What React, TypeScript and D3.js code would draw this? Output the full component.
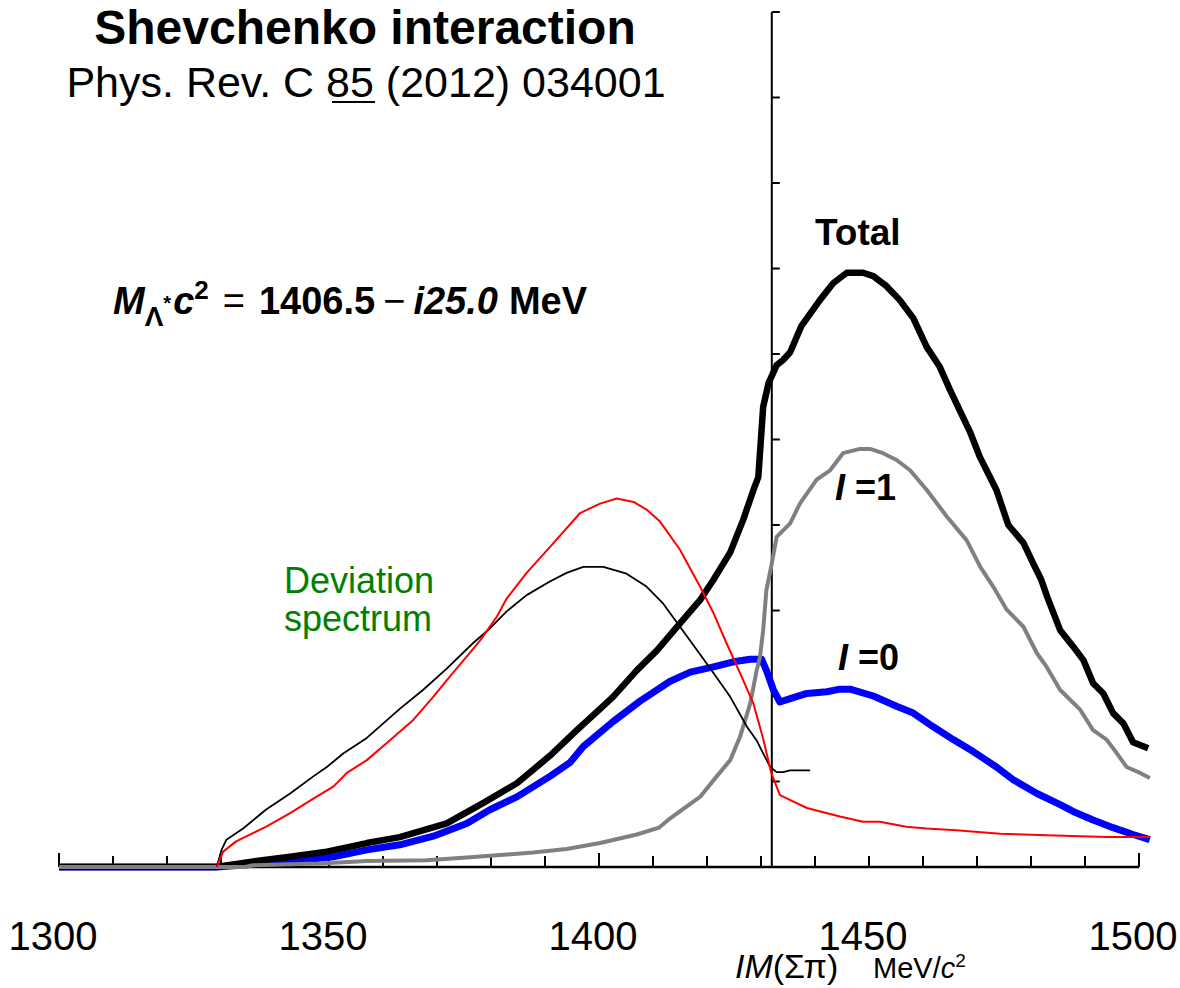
import React from "react";
import * as d3 from "d3";

// Invariant-mass axis (MeV/c^2) and the spectra in arbitrary units (one unit per y tick)
const totalMass = [1300, 1329, 1335.4, 1342.8, 1349.6, 1357.0, 1363.1, 1371.8, 1378.6, 1384.8, 1390.9, 1395.9, 1400.2, 1402.6, 1407.0, 1410.7, 1415.0, 1418.7, 1421.2, 1424.3, 1426.7, 1428.6, 1429.5, 1430.4, 1431.4, 1432.9, 1434.1, 1435.4, 1437.5, 1440.9, 1443.4, 1445.9, 1448.9, 1450.8, 1453.3, 1455.7, 1458.2, 1460.7, 1463.1, 1465.0, 1468.7, 1470.5, 1473.6, 1475.8, 1478.6, 1480.4, 1481.9, 1483.0, 1485.4, 1487.8, 1489.7, 1491.5, 1493.4, 1495.2, 1497.1, 1498.9, 1501.7];
const totalValue = [0, 0, 0.06, 0.12, 0.18, 0.28, 0.35, 0.51, 0.75, 0.98, 1.30, 1.60, 1.85, 1.99, 2.30, 2.53, 2.85, 3.12, 3.36, 3.68, 4.06, 4.41, 4.56, 5.38, 5.66, 5.87, 5.93, 6.02, 6.33, 6.63, 6.83, 6.95, 6.95, 6.91, 6.79, 6.63, 6.42, 6.08, 5.85, 5.58, 5.09, 4.80, 4.41, 4.00, 3.79, 3.55, 3.36, 3.16, 2.77, 2.58, 2.42, 2.15, 2.03, 1.80, 1.68, 1.46, 1.39];

const iso0Mass = [1300, 1329.2, 1335.4, 1344.6, 1350.8, 1357.0, 1363.1, 1369.3, 1375.5, 1379.8, 1384.8, 1390.9, 1394.6, 1397.1, 1402.6, 1407.6, 1413.1, 1416.9, 1421.2, 1424.9, 1428.0, 1430.1, 1431.0, 1432.3, 1433.5, 1435.4, 1438.5, 1442.2, 1444.6, 1446.5, 1450.8, 1455.1, 1458.2, 1461.9, 1465.6, 1469.3, 1473.6, 1476.7, 1481.1, 1485.4, 1487.8, 1491.5, 1495.2, 1498.9, 1502.0];
const iso0Value = [0, 0.0, 0.03, 0.08, 0.12, 0.20, 0.26, 0.36, 0.51, 0.67, 0.82, 1.06, 1.22, 1.41, 1.70, 1.94, 2.17, 2.28, 2.34, 2.40, 2.43, 2.43, 2.30, 2.07, 1.93, 1.97, 2.03, 2.05, 2.08, 2.08, 2.00, 1.88, 1.80, 1.64, 1.49, 1.35, 1.17, 1.02, 0.86, 0.73, 0.65, 0.55, 0.46, 0.38, 0.32];

const iso1Mass = [1300, 1334.5, 1335.9, 1348.3, 1357.0, 1368.1, 1375.5, 1381.7, 1387.8, 1394.0, 1400.2, 1407.0, 1411.1, 1412.8, 1418.7, 1421.8, 1424.3, 1426.1, 1428.0, 1429.2, 1429.8, 1430.4, 1431.0, 1432.0, 1432.9, 1435.4, 1437.2, 1440.3, 1442.8, 1445.2, 1448.3, 1450.2, 1452.6, 1455.1, 1457.6, 1460.7, 1464.4, 1468.1, 1470.6, 1473.0, 1475.5, 1478.6, 1481.1, 1482.9, 1485.4, 1489.1, 1491.5, 1494.0, 1495.9, 1497.7, 1500.2, 1502.0];
const iso1Value = [0, 0, 0.02, 0.04, 0.07, 0.08, 0.11, 0.14, 0.17, 0.21, 0.28, 0.38, 0.46, 0.55, 0.82, 1.06, 1.25, 1.52, 1.91, 2.30, 2.45, 2.77, 3.24, 3.55, 3.86, 4.02, 4.25, 4.53, 4.64, 4.84, 4.89, 4.89, 4.84, 4.76, 4.64, 4.41, 4.10, 3.82, 3.51, 3.28, 3.01, 2.81, 2.50, 2.34, 2.07, 1.84, 1.60, 1.49, 1.33, 1.17, 1.10, 1.04];

const redMass = [1329.2, 1330.4, 1332.8, 1338.3, 1342.8, 1347.1, 1350.8, 1353.3, 1357.0, 1360.7, 1365.6, 1369.3, 1372.4, 1375.5, 1378.0, 1381.1, 1382.9, 1386.6, 1391.6, 1396.5, 1400.2, 1403.3, 1406.4, 1408.8, 1411.3, 1415.0, 1418.7, 1421.2, 1423.6, 1426.1, 1428.6, 1430.4, 1431.9, 1433.5, 1438.5, 1444.6, 1448.9, 1452.0, 1456.9, 1460.6, 1466.2, 1474.3, 1482.9, 1494.0, 1502.0];
const redValue = [0, 0.18, 0.30, 0.47, 0.63, 0.80, 0.94, 1.10, 1.25, 1.45, 1.72, 1.99, 2.23, 2.46, 2.65, 2.93, 3.14, 3.44, 3.79, 4.14, 4.25, 4.31, 4.27, 4.18, 4.04, 3.71, 3.28, 2.97, 2.62, 2.27, 1.91, 1.50, 1.10, 0.84, 0.69, 0.59, 0.53, 0.53, 0.47, 0.45, 0.43, 0.39, 0.37, 0.35, 0.35];

const deviationMass = [1329.2, 1330.1, 1331.0, 1334.1, 1338.3, 1342.8, 1347.1, 1349.6, 1352.7, 1357.0, 1363.1, 1367.4, 1371.8, 1376.7, 1379.8, 1382.9, 1386.6, 1390.9, 1394.0, 1397.1, 1400.8, 1405.1, 1408.8, 1411.9, 1415.0, 1418.1, 1421.2, 1424.3, 1427.4, 1429.2, 1430.4, 1431.7, 1432.9, 1434.1, 1435.4, 1439.1];
const deviationValue = [0, 0.20, 0.32, 0.45, 0.67, 0.86, 1.06, 1.17, 1.33, 1.51, 1.85, 2.07, 2.32, 2.62, 2.79, 2.99, 3.18, 3.34, 3.44, 3.51, 3.51, 3.43, 3.28, 3.08, 2.81, 2.54, 2.27, 1.99, 1.64, 1.48, 1.33, 1.17, 1.11, 1.11, 1.13, 1.13];

const xTickLabels = [1300, 1350, 1400, 1450, 1500];
const thresholdMass = 1432;

const FONT = "'Liberation Sans', Arial, Helvetica, sans-serif";

function pts(xs: number[], ys: number[]): [number, number][] {
  return xs.map((x, i) => [x, ys[i]]);
}

export default function App() {
  const x = d3.scaleLinear().domain([1300, 1500]).range([59, 1139]);
  const y = d3.scaleLinear().domain([0, 10]).range([867, 12]);
  const line = d3
    .line<[number, number]>()
    .x((d) => x(d[0]))
    .y((d) => y(d[1]));

  const minorTicks = d3.range(1300, 1501, 10);
  const yTicks = d3.range(0, 11, 1);
  const axisX = x(thresholdMass);

  return (
    <svg width={1180} height={988} style={{ display: "block", position: "absolute", left: 0, top: 0, background: "#fff" }}>
      <rect width={1180} height={988} fill="#fff" />

      {/* horizontal axis with upward ticks */}
      <line x1={x(1300)} x2={x(1500)} y1={y(0)} y2={y(0)} stroke="#000" strokeWidth={2.5} />
      {minorTicks.map((t) => (
        <line key={t} x1={x(t)} x2={x(t)} y1={y(0)} y2={y(0) - (t % 100 === 0 ? 14 : 11)} stroke="#000" strokeWidth={2} />
      ))}
      {xTickLabels.map((t) => (
        <text key={t} x={x(t) - 6} y={950} textAnchor="middle" fontFamily={FONT} fontSize={40} fill="#000">
          {t}
        </text>
      ))}

      {/* vertical axis at the threshold, ticks on the right */}
      <line x1={axisX} x2={axisX} y1={y(10)} y2={y(0)} stroke="#000" strokeWidth={2} />
      {yTicks.map((t) => (
        <line key={t} x1={axisX} x2={axisX + 8} y1={y(t)} y2={y(t)} stroke="#000" strokeWidth={2} />
      ))}

      {/* spectra */}
      <path d={line(pts(iso0Mass, iso0Value)) || ""} fill="none" stroke="#0000ff" strokeWidth={7} strokeLinejoin="round" />
      <path d={line(pts(totalMass, totalValue)) || ""} fill="none" stroke="#000" strokeWidth={6.5} strokeLinejoin="round" />
      <path d={line(pts(iso1Mass, iso1Value)) || ""} fill="none" stroke="#808080" strokeWidth={4} strokeLinejoin="round" />
      <path d={line(pts(deviationMass, deviationValue)) || ""} fill="none" stroke="#000" strokeWidth={1.8} strokeLinejoin="round" />
      <path d={line(pts(redMass, redValue)) || ""} fill="none" stroke="#ff0000" strokeWidth={2} strokeLinejoin="round" />

      {/* titles */}
      <text x={365} y={44} textAnchor="middle" fontFamily={FONT} fontWeight="bold" fontSize={48} fill="#000">
        Shevchenko interaction
      </text>
      <text x={366} y={97} textAnchor="middle" fontFamily={FONT} fontSize={43} fill="#000">
        Phys. Rev. C 85 (2012) 034001
      </text>
      <line x1={332} x2={375} y1={102} y2={102} stroke="#000" strokeWidth={2} />

      {/* pole position */}
      <text x={113} y={314} fontFamily={FONT} fontWeight="bold" fontSize={38} fill="#000">
        <tspan fontStyle="italic">M</tspan>
        <tspan fontSize={28} dy={12}>Λ</tspan>
        <tspan fontSize={20} dy={-16}>*</tspan>
        <tspan fontStyle="italic" fontSize={38} dx={2} dy={4}>c</tspan>
        <tspan fontSize={26} dy={-15}>2</tspan>
        <tspan dy={15} dx={14} fontWeight="normal">=</tspan>
        <tspan dx={14}>1406.5</tspan>
        <tspan fontWeight="normal" dx={8}>−</tspan>
        <tspan fontStyle="italic" dx={8}>i25.0</tspan>
        <tspan dx={11}>MeV</tspan>
      </text>

      {/* curve labels */}
      <text x={815} y={245} fontFamily={FONT} fontWeight="bold" fontSize={37} fill="#000">Total</text>
      <text x={835} y={500} fontFamily={FONT} fontWeight="bold" fontSize={36} fill="#000">
        <tspan fontStyle="italic">I</tspan>{" =1"}
      </text>
      <text x={838} y={670} fontFamily={FONT} fontWeight="bold" fontSize={36} fill="#000">
        <tspan fontStyle="italic">I</tspan>{" =0"}
      </text>
      <text x={359} y={593} textAnchor="middle" fontFamily={FONT} fontSize={36} fill="#008000">Deviation</text>
      <text x={358} y={631} textAnchor="middle" fontFamily={FONT} fontSize={36} fill="#008000">spectrum</text>

      {/* axis title */}
      <text x={735} y={978} fontFamily={FONT} fontSize={34} fill="#000">
        <tspan fontStyle="italic">IM</tspan>(Σπ)
      </text>
      <text x={873} y={978} fontFamily={FONT} fontSize={29} fill="#000">
        MeV/<tspan fontStyle="italic">c</tspan><tspan fontSize={19} dy={-11}>2</tspan>
      </text>
    </svg>
  );
}
